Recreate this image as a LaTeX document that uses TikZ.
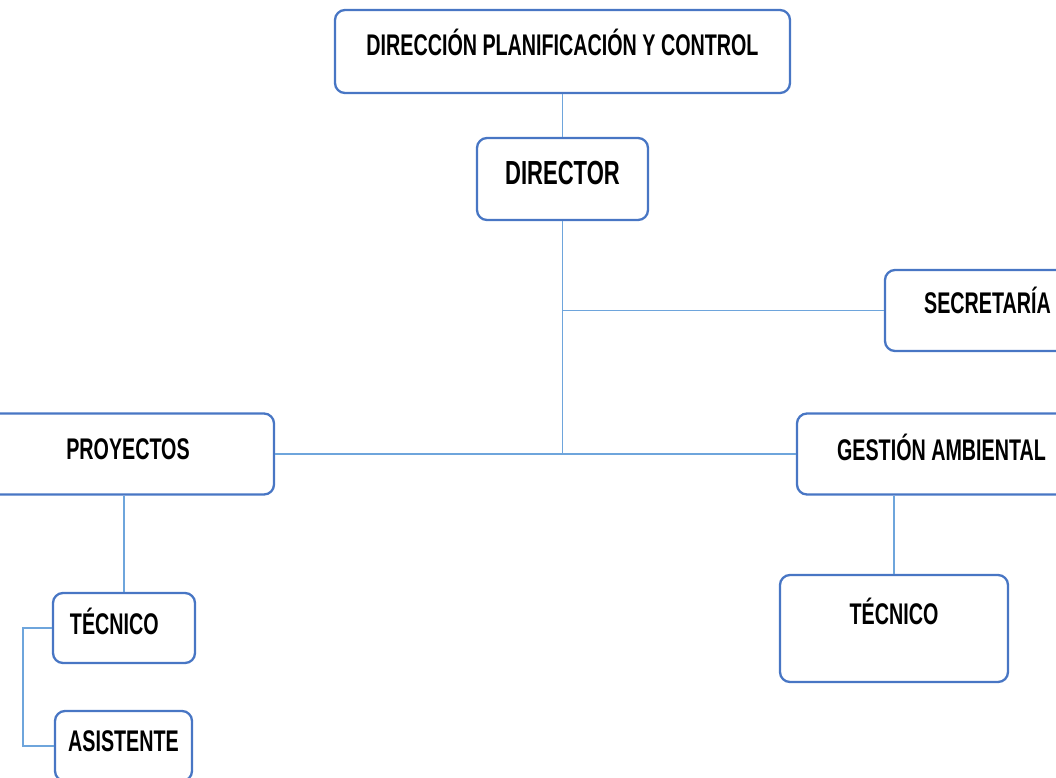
\documentclass[tikz,border=0pt]{standalone}
\usepackage{fontspec}
\setmainfont{Liberation Sans}[FakeStretch=0.66]
\usepackage{tikz}
\newdimen\unitsize
\setlength{\unitsize}{0.02cm}
\definecolor{boxblue}{RGB}{72,118,196}
\definecolor{linkblue}{RGB}{110,165,220}
\tikzset{
  box/.style={draw=boxblue,line width=1.3pt,rounded corners=10\unitsize,
    inner sep=0pt,fill=white,text height=21\unitsize,
    font=\bfseries\fontsize{17}{20}\selectfont},
  link/.style={draw=linkblue,line width=1.1pt}
}

\begin{document}
\begin{tikzpicture}[x=\unitsize,y=-\unitsize]
\useasboundingbox (0,0) rectangle (1056,778);
\clip (0,0) rectangle (1056,778);
% boxes
\node[box,minimum width=455\unitsize,minimum height=83\unitsize,
  text depth=13\unitsize] (dpc) at (562.5,51.5)
  {DIRECCIÓN PLANIFICACIÓN Y CONTROL};
\node[box,minimum width=171\unitsize,minimum height=82\unitsize,
  font=\bfseries\fontsize{19}{22}\selectfont,
  text height=24\unitsize,text depth=14\unitsize] (dir) at (562.5,179)
  {DIRECTOR};
\node[box,minimum width=205\unitsize,minimum height=81\unitsize,
  text depth=15\unitsize] (sec) at (987.5,310.5) {SECRETARÍA};
\node[box,minimum width=292\unitsize,minimum height=81\unitsize,
  text depth=11\unitsize] (proy) at (128,454) {PROYECTOS};
\node[box,minimum width=289\unitsize,minimum height=81\unitsize,
  text depth=8\unitsize] (ga) at (941.5,454) {GESTIÓN AMBIENTAL};
\node[box,minimum height=70\unitsize,text depth=8\unitsize,
  inner xsep=17\unitsize,text width=108\unitsize,align=left]
  (tecp) at (124,628) {TÉCNICO};
\node[box,minimum width=137\unitsize,minimum height=70\unitsize,
  text depth=10\unitsize] (asis) at (123.5,746) {ASISTENTE};
\node[box,minimum width=228\unitsize,minimum height=107\unitsize,
  text depth=29\unitsize] (tecg) at (894,628.5) {TÉCNICO};
% connectors
\coordinate (trunk) at (dir.south |- proy.east);
\draw[link] (dpc.south) -- (dir.north);
\draw[link] (dir.south) -- (trunk);
\draw[link] (dir.south |- sec.west) -- (sec.west);
\draw[link] (proy.east) -- (ga.west);
\draw[link] (tecp.north |- proy.south) -- (tecp.north);
\draw[link] (tecg.north |- ga.south) -- (tecg.north);
\draw[link] (tecp.west) -- ++(-29,0) |- (asis.west);
\end{tikzpicture}
\end{document}
